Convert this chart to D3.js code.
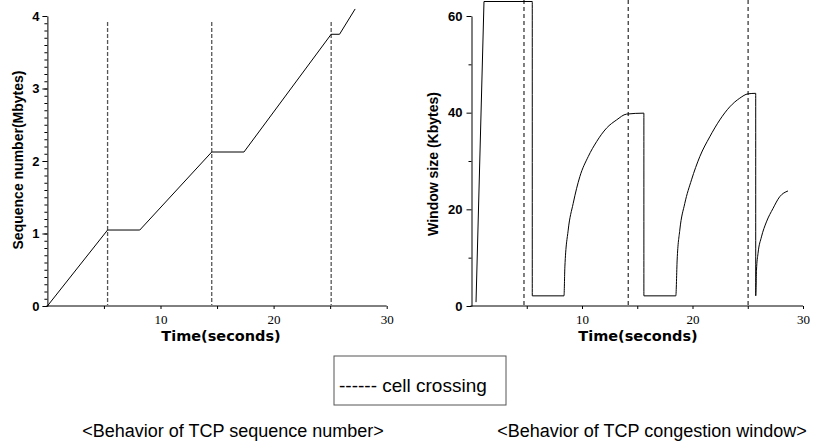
<!DOCTYPE html>
<html>
<head>
<meta charset="utf-8">
<script src="https://cdn.jsdelivr.net/npm/d3@7"></script>
<style>
    body { margin: 0; background: #fff; }
    svg { display: block; }
</style>
</head>
<body>
<div id="chart"></div>
<script>
// left panel: TCP sequence number (Mbytes) over time
const seqTime = [0, 5.32, 8.17, 14.53, 17.38, 25.09, 25.83, 27.21];
const seqValue = [0, 1.048, 1.048, 2.124, 2.124, 3.748, 3.748, 4.097];
const seqCrossings = [5.32, 14.53, 25.09];

// right panel: congestion window (Kbytes) over time
const winTime = [0.41, 1.13, 5.5, 5.5, 8.37,
    8.45, 8.75, 9.2, 9.81, 10.56, 11.32, 12.22, 13.13, 14.03, 15.6, 15.6, 18.49,
    18.61, 18.85, 19.3, 19.91, 20.66, 21.56, 22.47, 23.37, 24.28, 25.03, 25.72, 25.72,
    25.79, 25.93, 26.24, 26.69, 27.29, 27.89, 28.64];
const winValue = [0.8, 63, 63, 2.1, 2.1,
    8.1, 15.7, 21.2, 26.8, 30.9, 34.0, 36.8, 38.5, 39.7, 39.9, 2.1, 2.1,
    9.5, 15.7, 21.2, 26.1, 30.9, 35.0, 38.5, 41.2, 43.0, 43.9, 44.0, 2.1,
    7.4, 10.9, 14.3, 17.4, 20.2, 22.6, 23.8];
const winCrossings = [4.75, 14.18, 25.03];

// axis ticks
const xTicks = [5, 10, 15, 20, 25, 30];
const xLabels = [10, 20, 30];
const seqMajor = [0, 1, 2, 3, 4];
const seqMinor = d3.range(0, 40).map(d => d / 10);
const winMajor = [0, 20, 40, 60];
const winMinor = [10, 30, 50];

const captions = ['<Behavior of TCP sequence number>', '<Behavior of TCP congestion window>'];
const legendText = '------ cell crossing';

const width = 813;
const height = 441;

const svg = d3.select('#chart')
    .append('svg')
    .attr('width', width)
    .attr('height', height);

svg.append('rect')
    .attr('width', width)
    .attr('height', height)
    .attr('fill', '#fff');

// draws one panel: axes, dashed crossings and the trace
function drawPanel(p) {
    const x = d3.scaleLinear().domain([0, 30]).range(p.xRange);
    const y = d3.scaleLinear().domain(p.yDomain).range([306, 16]);

    const g = svg.append('g');

    // dashed cell crossing markers
    g.selectAll('line.cross')
        .data(p.crossings)
        .join('line')
        .attr('class', 'cross')
        .attr('x1', d => x(d))
        .attr('x2', d => x(d))
        .attr('y1', p.dashTop)
        .attr('y2', 305)
        .attr('stroke', p.dashColor)
        .attr('stroke-width', p.dashWidth)
        .attr('stroke-dasharray', p.dashArray);

    // x axis
    const xAxis = g.append('g')
        .attr('transform', 'translate(0,306)')
        .call(d3.axisBottom(x)
            .tickValues(xTicks)
            .tickSize(3)
            .tickSizeOuter(0)
            .tickPadding(6)
            .tickFormat(d => xLabels.includes(d) ? d : ''));
    xAxis.select('.domain').attr('d', 'M' + (p.xRange[0] - 1) + ',0H' + p.xRange[1]);
    xAxis.selectAll('text')
        .style('font-family', '"Liberation Serif", "Times New Roman", serif')
        .style('font-size', '13px');

    // y axis, minor then major ticks
    g.append('g')
        .attr('transform', 'translate(' + p.xRange[0] + ',0)')
        .call(d3.axisLeft(y).tickValues(p.minor).tickSize(3).tickFormat(''))
        .call(a => a.select('.domain').remove());

    const yAxis = g.append('g')
        .attr('transform', 'translate(' + p.xRange[0] + ',0)')
        .call(d3.axisLeft(y)
            .tickValues(p.major)
            .tickSize(5)
            .tickSizeOuter(0)
            .tickPadding(p.yPad)
            .tickFormat(d3.format('d')));
    yAxis.selectAll('text')
        .style('font-family', '"Liberation Sans", Arial, sans-serif')
        .style('font-weight', 'bold')
        .style('font-size', '13px');

    // trace: straight part first, then the smooth part (if any)
    const pts = p.t.map((t, i) => [t, p.v[i]]);
    const straight = d3.line().x(d => x(d[0])).y(d => y(d[1]));
    const smooth = d3.line().curve(d3.curveMonotoneX).x(d => x(d[0])).y(d => y(d[1]));
    g.append('path')
        .attr('d', straight(pts.slice(0, p.smoothFrom + 1)))
        .attr('fill', 'none')
        .attr('stroke', '#000')
        .attr('stroke-width', 1);
    if (p.smoothFrom < pts.length - 1) {
        g.append('path')
            .attr('d', smooth(pts.slice(p.smoothFrom)))
            .attr('fill', 'none')
            .attr('stroke', '#000')
            .attr('stroke-width', 1);
    }

    // axis titles
    g.append('text')
        .attr('transform', 'translate(' + p.yTitleX + ',' + p.yTitleY + ') rotate(-90)')
        .attr('text-anchor', 'middle')
        .attr('dy', '0.35em')
        .style('font-family', '"Liberation Sans", Arial, sans-serif')
        .style('font-weight', 'bold')
        .style('font-size', '14px')
        .text(p.yTitle);

    g.append('text')
        .attr('x', p.xTitleX)
        .attr('y', 336)
        .attr('dy', '0.35em')
        .attr('text-anchor', 'middle')
        .style('font-family', '"DejaVu Sans", Verdana, sans-serif')
        .style('font-weight', 'bold')
        .style('font-size', '14.5px')
        .text('Time(seconds)');

    g.append('text')
        .attr('x', p.captionX)
        .attr('y', 437)
        .attr('text-anchor', 'middle')
        .style('font-family', '"Liberation Sans", Arial, sans-serif')
        .style('font-size', '18px')
        .text(p.caption);
}

drawPanel({
    xRange: [47.4, 386.7],
    yDomain: [0, 4],
    t: seqTime, v: seqValue,
    smoothFrom: seqTime.length - 1,
    crossings: seqCrossings,
    dashTop: 22, dashColor: '#555', dashWidth: 1.3, dashArray: '4,2',
    major: seqMajor, minor: seqMinor, yPad: 3,
    yTitle: 'Sequence number(Mbytes)', yTitleX: 18, yTitleY: 160,
    xTitleX: 221,
    caption: captions[0], captionX: 233
});

drawPanel({
    xRange: [471.5, 803],
    yDomain: [0, 60],
    t: winTime, v: winValue,
    smoothFrom: 2,
    crossings: winCrossings,
    dashTop: 0, dashColor: '#000', dashWidth: 1, dashArray: '4,3',
    major: winMajor, minor: winMinor, yPad: 4,
    yTitle: 'Window size (Kbytes)', yTitleX: 433, yTitleY: 164,
    xTitleX: 638,
    caption: captions[1], captionX: 652
});

// legend box
const legend = svg.append('g').attr('transform', 'translate(334,356)');
legend.append('rect')
    .attr('width', 172)
    .attr('height', 49)
    .attr('fill', '#fff')
    .attr('stroke', '#555')
    .attr('stroke-width', 1);
legend.append('text')
    .attr('x', 5)
    .attr('y', 36)
    .style('font-family', '"Liberation Sans", Arial, sans-serif')
    .style('font-size', '19px')
    .text(legendText);
</script>
</body>
</html>
